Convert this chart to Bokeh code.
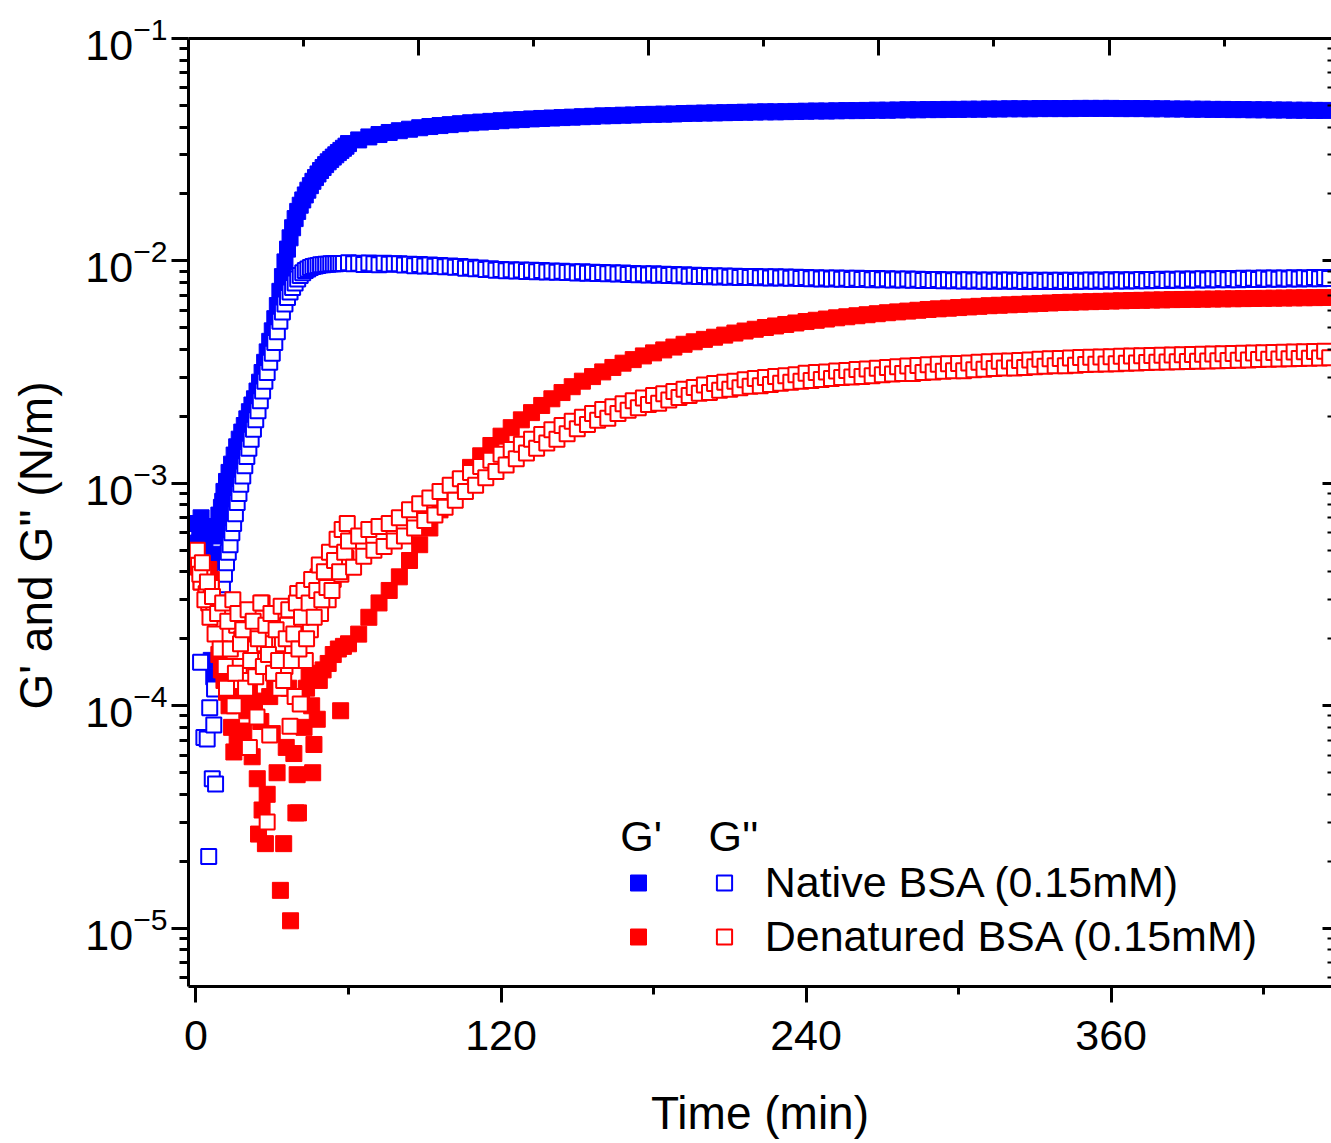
from bokeh.plotting import figure
from bokeh.layouts import row
from bokeh.models import (Range1d, LinearAxis, LogAxis, FixedTicker, CustomJSTickFormatter,
                          Label, Legend, LegendItem, ColumnDataSource)
from bokeh.core.properties import value
from bokeh.embed import file_html
from bokeh.resources import INLINE

FONT = "Liberation Sans"
BLUE = "#0000FF"
RED = "#FF0000"

# ---------------- data ----------------
t_early = [0, 1, 2, 3, 4, 5, 6, 7, 8, 9, 10, 11, 12, 13, 14, 15, 16, 17, 18, 19,
           20, 21, 22, 23, 24, 25, 26, 27, 28, 29, 30, 31, 32, 33, 34, 35, 36, 37, 38, 39,
           40, 41, 42, 43, 44, 45, 46, 47, 48, 49, 50, 51, 52, 53, 54, 55, 56, 57, 58, 59]
t_early_half = [0.5, 1.5, 2.5, 3.5, 4.5, 5.5, 6.5, 7.5, 8.5, 9.5, 10.5, 11.5, 12.5, 13.5, 14.5,
                15.5, 16.5, 17.5, 18.5, 19.5, 20.5, 21.5, 22.5, 23.5, 24.5, 25.5, 26.5, 27.5, 28.5, 29.5,
                30.5, 31.5, 32.5, 33.5, 34.5, 35.5, 36.5, 37.5, 38.5, 39.5, 40.5, 41.5, 42.5, 43.5, 44.5,
                45.5, 46.5, 47.5, 48.5, 49.5, 50.5, 51.5, 52.5, 53.5, 54.5, 55.5, 56.5, 57.5, 58.5, 59.5]
t_late4 = [60, 64, 68, 72, 76, 80, 84, 88, 92, 96, 100, 104, 108, 112, 116, 120, 124, 128, 132, 136,
           140, 144, 148, 152, 156, 160, 164, 168, 172, 176, 180, 184, 188, 192, 196, 200, 204, 208, 212, 216,
           220, 224, 228, 232, 236, 240, 244, 248, 252, 256, 260, 264, 268, 272, 276, 280, 284, 288, 292, 296,
           300, 304, 308, 312, 316, 320, 324, 328, 332, 336, 340, 344, 348, 352, 356, 360, 364, 368, 372, 376,
           380, 384, 388, 392, 396, 400, 404, 408, 412, 416, 420, 424, 428, 432, 436, 440, 444]
t_late2 = [60, 62, 64, 66, 68, 70, 72, 74, 76, 78, 80, 82, 84, 86, 88, 90, 92, 94, 96, 98,
           100, 102, 104, 106, 108, 110, 112, 114, 116, 118, 120, 122, 124, 126, 128, 130, 132, 134, 136, 138,
           140, 142, 144, 146, 148, 150, 152, 154, 156, 158, 160, 162, 164, 166, 168, 170, 172, 174, 176, 178,
           180, 182, 184, 186, 188, 190, 192, 194, 196, 198, 200, 202, 204, 206, 208, 210, 212, 214, 216, 218,
           220, 222, 224, 226, 228, 230, 232, 234, 236, 238, 240, 242, 244, 246, 248, 250, 252, 254, 256, 258,
           260, 262, 264, 266, 268, 270, 272, 274, 276, 278, 280, 282, 284, 286, 288, 290, 292, 294, 296, 298,
           300, 302, 304, 306, 308, 310, 312, 314, 316, 318, 320, 322, 324, 326, 328, 330, 332, 334, 336, 338,
           340, 342, 344, 346, 348, 350, 352, 354, 356, 358, 360, 362, 364, 366, 368, 370, 372, 374, 376, 378,
           380, 382, 384, 386, 388, 390, 392, 394, 396, 398, 400, 402, 404, 406, 408, 410, 412, 414, 416, 418,
           420, 422, 424, 426, 428, 430, 432, 434, 436, 438, 440, 442, 444, 446]

# Native BSA, G' (filled blue)  [N/m]
native_gp_early = [6.6e-4, 5.4e-4, 7.0e-4, 4.9e-4, 6.3e-4, 4.7e-4, 1.6e-4, 1.35e-4, 5.8e-4, 7.2e-4,
                   7.8e-4, 9.2e-4, 1.02e-3, 1.12e-3, 1.22e-3, 1.34e-3, 1.46e-3, 1.58e-3, 1.70e-3, 1.82e-3,
                   1.95e-3, 2.10e-3, 2.25e-3, 2.40e-3, 2.60e-3, 2.85e-3, 3.15e-3, 3.50e-3, 3.90e-3, 4.35e-3,
                   4.85e-3, 5.50e-3, 6.30e-3, 7.30e-3, 8.50e-3, 9.90e-3, 1.13e-2, 1.27e-2, 1.41e-2, 1.55e-2,
                   1.67e-2, 1.78e-2, 1.88e-2, 1.98e-2, 2.08e-2, 2.18e-2, 2.28e-2, 2.37e-2, 2.46e-2, 2.55e-2,
                   2.63e-2, 2.71e-2, 2.79e-2, 2.86e-2, 2.93e-2, 3.00e-2, 3.07e-2, 3.14e-2, 3.21e-2, 3.28e-2]
native_gp_t_extra = [0.5, 1.5, 2.5, 3.5, 4.5, 5.5, 6.5, 7.5, 8.5, 9.5, 10.5]
native_gp_extra = [5.2e-4, 6.1e-4, 4.6e-4, 5.6e-4, 4.4e-4, 5.9e-4, 4.5e-4, 6.4e-4, 4.8e-4, 6.8e-4, 8.3e-4]
native_gp_late = [3.37e-2, 3.50e-2, 3.61e-2, 3.70e-2, 3.78e-2, 3.85e-2, 3.91e-2, 3.97e-2, 4.02e-2, 4.06e-2,
                  4.10e-2, 4.14e-2, 4.18e-2, 4.21e-2, 4.24e-2, 4.27e-2, 4.30e-2, 4.32e-2, 4.35e-2, 4.37e-2,
                  4.39e-2, 4.41e-2, 4.43e-2, 4.45e-2, 4.47e-2, 4.49e-2, 4.50e-2, 4.52e-2, 4.53e-2, 4.55e-2,
                  4.56e-2, 4.57e-2, 4.58e-2, 4.60e-2, 4.61e-2, 4.62e-2, 4.63e-2, 4.64e-2, 4.65e-2, 4.66e-2,
                  4.67e-2, 4.68e-2, 4.68e-2, 4.69e-2, 4.70e-2, 4.71e-2, 4.72e-2, 4.72e-2, 4.73e-2, 4.74e-2,
                  4.74e-2, 4.75e-2, 4.76e-2, 4.76e-2, 4.77e-2, 4.78e-2, 4.78e-2, 4.79e-2, 4.79e-2, 4.80e-2,
                  4.80e-2, 4.81e-2, 4.81e-2, 4.82e-2, 4.82e-2, 4.83e-2, 4.83e-2, 4.83e-2, 4.84e-2, 4.84e-2,
                  4.84e-2, 4.84e-2, 4.85e-2, 4.85e-2, 4.85e-2, 4.85e-2, 4.84e-2, 4.84e-2, 4.84e-2, 4.83e-2,
                  4.83e-2, 4.82e-2, 4.82e-2, 4.81e-2, 4.81e-2, 4.80e-2, 4.80e-2, 4.79e-2, 4.79e-2, 4.78e-2,
                  4.78e-2, 4.77e-2, 4.77e-2, 4.76e-2, 4.76e-2, 4.75e-2, 4.75e-2]

# Native BSA, G'' (open blue)
native_gpp_t_early = [1.8, 3.1, 4.4, 5.0, 5.4, 6.4, 7.0, 7.3, 7.7, 8.6, 9.6, 10.4, 11.2, 12.0, 12.7,
                      13.4, 14.1, 14.8, 15.5, 16.2, 16.9, 17.6, 18.4, 19.2, 20.0, 20.8, 21.7, 22.6, 23.5,
                      24.4, 25.3, 26.2, 27.1, 28.0, 29.0, 30.0, 31.0, 32.0, 33.0, 34.0, 35.0, 36.0, 37.0,
                      38.0, 39.0, 40.0, 41.0, 42.0, 43.0, 44.0, 45.0, 46.0, 47.0, 48.0, 49.0, 50.0, 51.0,
                      52.0, 53.0, 54.0, 55.0, 56.0, 57.0, 58.0]
native_gpp_early = [1.57e-4, 7.2e-5, 7.1e-5, 2.1e-5, 9.8e-5, 4.7e-5, 8.2e-5, 1.19e-4, 4.45e-5, 2.3e-4,
                    2.9e-4, 3.5e-4, 3.9e-4, 4.4e-4, 4.9e-4, 5.3e-4, 6.0e-4, 6.6e-4, 7.3e-4, 8.2e-4,
                    9.0e-4, 9.9e-4, 1.08e-3, 1.20e-3, 1.32e-3, 1.44e-3, 1.58e-3, 1.75e-3, 1.93e-3, 2.12e-3,
                    2.35e-3, 2.60e-3, 2.88e-3, 3.15e-3, 3.50e-3, 3.85e-3, 4.30e-3, 4.80e-3, 5.35e-3, 5.90e-3,
                    6.40e-3, 6.85e-3, 7.25e-3, 7.60e-3, 7.95e-3, 8.30e-3, 8.60e-3, 8.85e-3, 9.05e-3, 9.20e-3,
                    9.35e-3, 9.45e-3, 9.50e-3, 9.55e-3, 9.60e-3, 9.60e-3, 9.65e-3, 9.65e-3, 9.70e-3, 9.70e-3,
                    9.70e-3, 9.75e-3, 9.75e-3, 9.75e-3]
native_gpp_late_mN = [9.82, 9.70, 9.76, 9.64, 9.78, 9.70, 9.62, 9.77, 9.66, 9.70,
                      9.72, 9.58, 9.66, 9.52, 9.64, 9.50, 9.58, 9.46, 9.55, 9.42,
                      9.50, 9.36, 9.44, 9.28, 9.37, 9.22, 9.30, 9.15, 9.23, 9.08,
                      9.16, 9.03, 9.12, 9.00, 9.10, 8.96, 9.07, 8.94, 9.05, 8.92,
                      9.02, 8.89, 8.98, 8.86, 8.95, 8.83, 8.93, 8.80, 8.90, 8.78,
                      8.88, 8.76, 8.85, 8.73, 8.82, 8.70, 8.79, 8.67, 8.76, 8.65,
                      8.75, 8.63, 8.72, 8.60, 8.69, 8.57, 8.66, 8.54, 8.63, 8.52,
                      8.61, 8.50, 8.58, 8.47, 8.56, 8.45, 8.54, 8.43, 8.52, 8.42,
                      8.52, 8.41, 8.50, 8.39, 8.48, 8.37, 8.46, 8.35, 8.44, 8.33,
                      8.43, 8.32, 8.41, 8.30, 8.39, 8.29, 8.37, 8.27, 8.36, 8.26,
                      8.36, 8.25, 8.34, 8.23, 8.33, 8.22, 8.31, 8.21, 8.30, 8.20,
                      8.29, 8.18, 8.27, 8.17, 8.26, 8.16, 8.25, 8.15, 8.24, 8.14,
                      8.24, 8.13, 8.22, 8.12, 8.21, 8.11, 8.21, 8.10, 8.20, 8.10,
                      8.20, 8.10, 8.19, 8.09, 8.19, 8.08, 8.18, 8.08, 8.18, 8.08,
                      8.18, 8.08, 8.19, 8.09, 8.19, 8.10, 8.20, 8.10, 8.21, 8.11,
                      8.22, 8.12, 8.23, 8.13, 8.24, 8.14, 8.25, 8.15, 8.26, 8.16,
                      8.27, 8.17, 8.28, 8.18, 8.29, 8.19, 8.30, 8.20, 8.31, 8.21,
                      8.32, 8.22, 8.33, 8.23, 8.34, 8.24, 8.35, 8.25, 8.36, 8.26,
                      8.37, 8.27, 8.38, 8.28, 8.39, 8.29, 8.40, 8.30, 8.41, 8.31,
                      8.42, 8.32, 8.43, 8.33]

# Denatured BSA, G' (filled red)
denat_gp_t_early = [0.0, 1.0, 2.0, 3.0, 4.0, 5.0, 6.0, 7.0, 8.0, 9.0,
                    10.0, 11.0, 12.0, 13.0, 14.0, 14.9, 16.2, 17.5, 18.8, 20.0,
                    21.0, 22.1, 23.0, 24.1, 24.6, 25.5, 26.0, 27.3, 28.0, 29.0,
                    30.0, 31.0, 31.9, 33.2, 34.5, 35.5, 36.5, 37.2, 38.5, 39.3,
                    39.8, 40.3, 41.5, 42.5, 43.5, 44.5, 45.5, 45.9, 46.4, 47.7,
                    48.5, 50.0, 52.0, 54.0, 56.0, 56.9, 58.0]
denat_gp_early = [4.8e-4, 4.2e-4, 3.6e-4, 4.0e-4, 3.2e-4, 4.1e-4, 3.7e-4, 2.6e-4, 2.2e-4, 1.7e-4,
                  1.45e-4, 1.3e-4, 1.15e-4, 1.0e-4, 8.0e-5, 6.2e-5, 7.0e-5, 1.1e-4, 7.7e-5, 9.5e-5,
                  1.2e-4, 5.9e-5, 1.05e-4, 4.7e-5, 2.65e-5, 8.5e-5, 3.4e-5, 2.4e-5, 4.0e-5, 1.1e-4,
                  7.5e-5, 1.3e-4, 5.0e-5, 1.48e-5, 2.4e-5, 6.5e-5, 1.2e-4, 1.08e-5, 6.1e-5, 3.3e-5,
                  4.9e-5, 3.3e-5, 1.05e-4, 8.0e-5, 1.2e-4, 1.4e-4, 1.0e-4, 5.0e-5, 6.7e-5, 8.7e-5,
                  1.3e-4, 1.45e-4, 1.55e-4, 1.7e-4, 1.8e-4, 9.5e-5, 1.85e-4]
denat_gp_late = [1.9e-4, 2.1e-4, 2.5e-4, 2.9e-4, 3.3e-4, 3.8e-4, 4.5e-4, 5.3e-4, 6.3e-4, 7.6e-4,
                 9.0e-4, 1.04e-3, 1.18e-3, 1.33e-3, 1.48e-3, 1.63e-3, 1.78e-3, 1.93e-3, 2.08e-3, 2.24e-3,
                 2.40e-3, 2.56e-3, 2.72e-3, 2.88e-3, 3.02e-3, 3.17e-3, 3.32e-3, 3.47e-3, 3.60e-3, 3.74e-3,
                 3.86e-3, 3.98e-3, 4.10e-3, 4.22e-3, 4.33e-3, 4.44e-3, 4.54e-3, 4.64e-3, 4.74e-3, 4.84e-3,
                 4.93e-3, 5.02e-3, 5.10e-3, 5.18e-3, 5.26e-3, 5.34e-3, 5.41e-3, 5.48e-3, 5.55e-3, 5.61e-3,
                 5.67e-3, 5.73e-3, 5.79e-3, 5.85e-3, 5.90e-3, 5.95e-3, 6.00e-3, 6.05e-3, 6.09e-3, 6.13e-3,
                 6.17e-3, 6.21e-3, 6.25e-3, 6.29e-3, 6.32e-3, 6.35e-3, 6.38e-3, 6.41e-3, 6.44e-3, 6.47e-3,
                 6.50e-3, 6.52e-3, 6.54e-3, 6.56e-3, 6.58e-3, 6.60e-3, 6.62e-3, 6.64e-3, 6.65e-3, 6.67e-3,
                 6.68e-3, 6.70e-3, 6.71e-3, 6.72e-3, 6.73e-3, 6.74e-3, 6.75e-3, 6.76e-3, 6.77e-3, 6.78e-3,
                 6.79e-3, 6.80e-3, 6.81e-3, 6.82e-3, 6.83e-3, 6.84e-3, 6.85e-3]

# Denatured BSA, G'' (open red)
denat_gpp_early = [4.8e-4, 4.3e-4, 3.6e-4, 4.1e-4, 3.2e-4, 2.9e-4, 3.4e-4, 2.6e-4, 2.2e-4, 2.8e-4,
                   1.9e-4, 2.4e-4, 1.2e-4, 2.1e-4, 2.7e-4, 1.0e-4, 2.3e-4, 1.5e-4, 2.0e-4, 2.5e-4,
                   1.3e-4, 6.5e-5, 1.8e-4, 2.2e-4, 8.9e-5, 1.6e-4, 2.9e-4, 1.9e-4, 3.0e-5, 7.4e-5,
                   2.6e-4, 1.7e-4, 2.5e-4, 1.2e-4, 1.9e-4, 1.5e-4, 2.3e-4, 8.1e-5, 1.8e-4, 1.1e-4,
                   3.2e-4, 1.02e-4, 2.8e-4, 1.6e-4, 3.3e-4, 2.2e-4, 3.4e-4, 2.7e-4, 3.8e-4, 2.6e-4,
                   3.5e-4, 4.1e-4, 3.0e-4, 4.7e-4, 3.7e-4, 4.3e-4, 5.2e-4, 3.9e-4, 5.8e-4, 4.6e-4]
denat_gpp_half = [5.0e-4, 3.9e-4, 4.4e-4, 3.0e-4, 3.6e-4, 2.5e-4, 3.1e-4, 2.1e-4, 2.6e-4, 1.8e-4,
                  2.9e-4, 1.5e-4, 2.4e-4, 1.8e-4, 3.0e-4, 1.4e-4, 2.6e-4, 1.9e-4, 2.2e-4, 1.2e-4,
                  2.7e-4, 1.6e-4, 2.4e-4, 1.35e-4, 2.0e-4, 2.9e-4, 1.5e-4, 2.3e-4, 1.7e-4, 2.6e-4,
                  1.4e-4, 2.2e-4, 1.6e-4, 2.8e-4, 1.3e-4, 2.0e-4, 2.7e-4, 1.6e-4, 2.1e-4, 2.9e-4,
                  1.8e-4, 2.5e-4, 3.3e-4, 2.0e-4, 2.9e-4, 3.7e-4, 2.5e-4, 3.3e-4, 4.3e-4, 3.0e-4,
                  4.0e-4, 3.4e-4, 4.9e-4, 3.3e-4, 4.5e-4, 5.6e-4, 4.0e-4, 6.2e-4, 4.9e-4, 6.6e-4]
denat_gpp_late_mN = [0.55, 0.42, 0.58, 0.47, 0.62, 0.50, 0.64, 0.52, 0.66, 0.55,
                     0.70, 0.58, 0.76, 0.63, 0.81, 0.68, 0.86, 0.72, 0.92, 0.78,
                     0.98, 0.84, 1.05, 0.92, 1.12, 0.98, 1.19, 1.06, 1.27, 1.13,
                     1.35, 1.21, 1.42, 1.29, 1.50, 1.37, 1.58, 1.44, 1.66, 1.52,
                     1.74, 1.58, 1.82, 1.67, 1.90, 1.76, 1.98, 1.84, 2.06, 1.92,
                     2.15, 1.96, 2.21, 2.06, 2.28, 2.13, 2.35, 2.19, 2.42, 2.26,
                     2.48, 2.29, 2.53, 2.37, 2.59, 2.43, 2.65, 2.48, 2.70, 2.54,
                     2.77, 2.56, 2.81, 2.62, 2.85, 2.65, 2.88, 2.69, 2.92, 2.73,
                     2.96, 2.75, 2.99, 2.78, 3.02, 2.82, 3.05, 2.85, 3.08, 2.88,
                     3.13, 2.90, 3.15, 2.93, 3.17, 2.96, 3.20, 2.99, 3.22, 3.01,
                     3.25, 3.02, 3.27, 3.05, 3.29, 3.08, 3.32, 3.10, 3.34, 3.12,
                     3.37, 3.12, 3.39, 3.15, 3.41, 3.17, 3.43, 3.19, 3.45, 3.21,
                     3.46, 3.21, 3.48, 3.24, 3.50, 3.26, 3.52, 3.28, 3.54, 3.30,
                     3.55, 3.30, 3.57, 3.32, 3.59, 3.34, 3.61, 3.36, 3.63, 3.38,
                     3.64, 3.38, 3.66, 3.40, 3.68, 3.42, 3.69, 3.43, 3.70, 3.44,
                     3.71, 3.45, 3.73, 3.47, 3.74, 3.48, 3.75, 3.49, 3.76, 3.50,
                     3.77, 3.51, 3.78, 3.52, 3.79, 3.53, 3.80, 3.54, 3.81, 3.55,
                     3.82, 3.56, 3.83, 3.57, 3.84, 3.58, 3.85, 3.59, 3.86, 3.60,
                     3.87, 3.61, 3.88, 3.62, 3.89, 3.63, 3.90, 3.64, 3.91, 3.65,
                     3.92, 3.66, 3.93, 3.67]

x_tick_values = [0, 120, 240, 360]
x_minor_values = [60, 180, 300, 420]
y_tick_values = [1e-5, 1e-4, 1e-3, 1e-2, 1e-1]
y_minor_values = [k * 10.0 ** e for e in range(-6, -1) for k in range(2, 10)]

x_title = "Time (min)"
y_title = "G' and G'' (N/m)"
legend_head_filled = "G'"
legend_head_open = "G''"
series_names = ["Native BSA (0.15mM)", "Denatured BSA (0.15mM)"]

# ---------------- main figure ----------------
TW = 70                     # strip holding the rotated y title
W, H = 1331 - TW, 1143
p = figure(width=W, height=H, output_backend="svg", toolbar_location=None,
           y_axis_type="log",
           x_range=Range1d(-2.95, 446.7), y_range=Range1d(5.47e-6, 0.1),
           min_border_left=188 - TW, min_border_right=0, min_border_top=38, min_border_bottom=157)
p.grid.visible = False
p.outline_line_color = None
p.background_fill_color = "white"
p.border_fill_color = "white"

src_bf = ColumnDataSource(dict(t=t_early + native_gp_t_extra + t_late4,
                               v=native_gp_early + native_gp_extra + native_gp_late))
src_bo = ColumnDataSource(dict(t=native_gpp_t_early + t_late2,
                               v=native_gpp_early + [v * 1e-3 for v in native_gpp_late_mN]))
src_rf = ColumnDataSource(dict(t=denat_gp_t_early + t_late4, v=denat_gp_early + denat_gp_late))
src_ro = ColumnDataSource(dict(t=t_early + t_early_half + t_late2,
                               v=denat_gpp_early + denat_gpp_half + [v * 1e-3 for v in denat_gpp_late_mN]))

r_bf = p.scatter("t", "v", source=src_bf, marker="square", size=16,
                 fill_color=BLUE, line_color=BLUE, line_width=1)
r_bo = p.scatter("t", "v", source=src_bo, marker="square", size=15,
                 fill_color="white", line_color=BLUE, line_width=2)
r_rf = p.scatter("t", "v", source=src_rf, marker="square", size=16,
                 fill_color=RED, line_color=RED, line_width=1)
r_ro = p.scatter("t", "v", source=src_ro, marker="square", size=15,
                 fill_color="white", line_color=RED, line_width=2)

# bottom axis
xa = p.xaxis[0]
xa.ticker = FixedTicker(ticks=x_tick_values, minor_ticks=x_minor_values)
xa.axis_label = x_title
xa.axis_label_text_font = FONT
xa.axis_label_text_font_size = "46px"
xa.axis_label_text_font_style = "normal"
xa.axis_label_text_color = "black"
xa.axis_label_standoff = 34
xa.major_label_text_font = FONT
xa.major_label_text_font_size = "43px"
xa.major_label_text_color = "black"
xa.major_label_standoff = 18
xa.axis_line_width = 3
xa.axis_line_color = "black"
xa.major_tick_line_width = 3
xa.minor_tick_line_width = 3
xa.major_tick_line_color = "black"
xa.minor_tick_line_color = "black"
xa.major_tick_out = 16
xa.major_tick_in = 0
xa.minor_tick_out = 8
xa.minor_tick_in = 0

# left axis
ya = p.yaxis[0]
ya.ticker = FixedTicker(ticks=y_tick_values, minor_ticks=y_minor_values)
ya.major_label_text_font = FONT
ya.major_label_text_font_size = "43px"
ya.major_label_text_color = "black"
ya.major_label_standoff = 4
ya.axis_line_width = 3
ya.axis_line_color = "black"
ya.major_tick_line_width = 3
ya.minor_tick_line_width = 3
ya.major_tick_line_color = "black"
ya.minor_tick_line_color = "black"
ya.major_tick_out = 17
ya.major_tick_in = 0
ya.minor_tick_out = 9
ya.minor_tick_in = 0

# top axis (mirror, ticks inward, no labels)
p.extra_x_ranges = {"top": Range1d(0, 447)}
top = LinearAxis(x_range_name="top",
                 ticker=FixedTicker(ticks=[90, 180, 270, 360], minor_ticks=[45, 135, 225, 315, 405]),
                 formatter=CustomJSTickFormatter(code="return ''"),
                 major_label_text_font_size="1px", major_label_standoff=0,
                 axis_line_width=3, axis_line_color="black",
                 major_tick_line_width=3, minor_tick_line_width=3,
                 major_tick_line_color="black", minor_tick_line_color="black",
                 major_tick_in=17, major_tick_out=0, minor_tick_in=8, minor_tick_out=0)
p.add_layout(top, "above")

# right axis (ticks inward only)
right = LogAxis(ticker=FixedTicker(ticks=y_tick_values, minor_ticks=y_minor_values),
                formatter=CustomJSTickFormatter(code="return ''"),
                major_label_text_font_size="1px", major_label_standoff=0,
                axis_line_color=None, major_tick_line_width=3, minor_tick_line_width=2,
                major_tick_line_color="black", minor_tick_line_color="black",
                major_tick_in=9, major_tick_out=0, minor_tick_in=4, minor_tick_out=0)
p.add_layout(right, "right")

# legend column headers
p.add_layout(Label(x=431.7, y=150.6, x_units="screen", y_units="screen", text=legend_head_filled,
                   text_align="left", text_baseline="alphabetic",
                   text_font=FONT, text_font_size="43px", text_color="black"))
p.add_layout(Label(x=520.0, y=150.6, x_units="screen", y_units="screen", text=legend_head_open,
                   text_align="left", text_baseline="alphabetic",
                   text_font=FONT, text_font_size="43px", text_color="black"))

legA = Legend(items=[LegendItem(label=value(""), renderers=[r_bf]),
                     LegendItem(label=value(""), renderers=[r_rf])],
              location=(429.7, 24.8), glyph_width=40, glyph_height=49, spacing=5,
              padding=0, margin=0, label_standoff=0, label_width=0,
              label_text_font=FONT, label_text_font_size="43px",
              background_fill_alpha=0, border_line_alpha=0)
legB = Legend(items=[LegendItem(label=value(series_names[0]), renderers=[r_bo]),
                     LegendItem(label=value(series_names[1]), renderers=[r_ro])],
              location=(516.7, 24.8), glyph_width=38, glyph_height=49, spacing=5,
              padding=0, margin=0, label_standoff=22,
              label_text_font=FONT, label_text_font_size="43px", label_text_color="black",
              background_fill_alpha=0, border_line_alpha=0)
p.add_layout(legA)
p.add_layout(legB)

# ---------------- strip with the rotated y-axis title ----------------
# (its frame is aligned by the row layout with the main frame: 38..986 px)
pt = figure(width=TW, height=H, output_backend="svg", toolbar_location=None,
            x_range=Range1d(0, 1), y_range=Range1d(0, 1),
            x_axis_location=None, y_axis_location=None, min_border=0)
pt.outline_line_color = None
pt.xgrid.visible = False
pt.ygrid.visible = False
pt.background_fill_color = "white"
pt.border_fill_color = "white"
pt.add_layout(Label(x=35, y=441, x_units="screen", y_units="screen", text=y_title,
                    angle=90, angle_units="deg", text_align="center", text_baseline="middle",
                    text_font=FONT, text_font_size="46px", text_color="black"))

layout = row(pt, p, spacing=0)
open("out.html", "w").write(file_html(layout, INLINE))
